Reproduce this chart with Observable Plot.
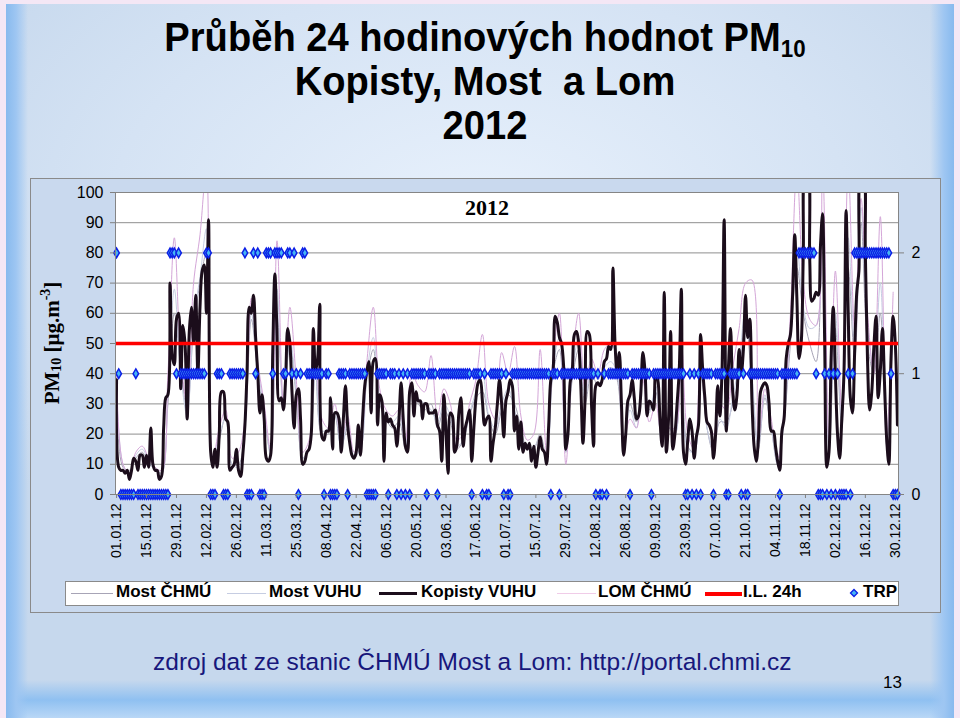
<!DOCTYPE html>
<html><head><meta charset="utf-8">
<script src="https://cdn.jsdelivr.net/npm/d3@7"></script>
<script src="https://cdn.jsdelivr.net/npm/@observablehq/plot@0.6"></script>
<style>
html,body{margin:0;padding:0;}
body{width:960px;height:718px;position:relative;overflow:hidden;background:#f4e7f5;font-family:"Liberation Sans",Arial,sans-serif;}
#slide{position:absolute;left:6px;top:4px;width:948px;height:714px;
 background:
 linear-gradient(to right,#88baee 0px,#9ec6f2 10px,rgba(200,218,240,0) 22px,rgba(200,218,240,0) 924px,#9ec6f2 938px,#88baee 948px),
 linear-gradient(to bottom,rgba(140,190,240,0) 676px,#8fc0f1 696px,#b9d7f6 714px),
 radial-gradient(ellipse 65% 55% at 50% 30%,#e8f1fc 0%,#d5e3f4 60%,#c6d8ed 100%);}
#title{position:absolute;left:0;top:15px;width:970px;text-align:center;font:bold 41px/44px "Liberation Sans",Arial,sans-serif;color:#000;transform:scaleX(0.93);transform-origin:485px 0;}
#title sub{font-size:24px;line-height:0;vertical-align:-0.25em;}
#box{position:absolute;left:30px;top:178px;width:909px;height:433px;border:1px solid #8a8a8a;background:#c9d9ee;}
#chart{position:absolute;left:30px;top:178px;}
#ytitle{position:absolute;left:52px;top:343px;transform:translate(-50%,-50%) rotate(-90deg);font:bold 21px "Liberation Serif","Times New Roman",serif;white-space:nowrap;}
#ytitle sub{font-size:14px;line-height:0;vertical-align:-0.2em;}
#ytitle sup{font-size:14px;line-height:0;vertical-align:0.6em;}
#legend{position:absolute;left:65px;top:581px;width:832px;height:23px;border:1px solid #8a8a8a;background:#fff;}
.li{position:absolute;top:0;height:23px;line-height:23px;font:bold 17px "Liberation Sans",Arial,sans-serif;white-space:nowrap;}
.ln{position:absolute;}
#source{position:absolute;left:153px;top:650px;font:24.5px/24px "Liberation Sans",Arial,sans-serif;color:#17177c;white-space:nowrap;}
#page{position:absolute;left:883px;top:674px;font:17px/17px "Liberation Sans",Arial,sans-serif;color:#000;}
</style></head><body>
<div id="slide"></div>
<div id="title">Průběh 24 hodinových hodnot PM<sub>10</sub><br>Kopisty, Most&nbsp; a Lom<br>2012</div>
<div id="box"></div>
<div id="chart"></div>
<div id="ytitle">PM<sub>10</sub> [μg.m<sup>-3</sup>]</div>
<div id="legend"></div>
<div id="source">zdroj dat ze stanic ČHMÚ Most a Lom: http://portal.chmi.cz</div>
<div id="page">13</div>
<script>
// ---------- data (daily values, 2012) ----------
const seriesNames = ["Most ČHMÚ", "Most VUHU", "Kopisty VUHU", "LOM ČHMÚ", "I.L. 24h", "TRP"];
const yearStart = "2012-01-01";

// Kopisty VUHU, one value per day from 01.01.12
const kopisty = [
 38, 9, 8, 8, 7, 8, 5, 8, 12, 11,
 8, 13, 13, 9, 13, 9, 22, 10, 8, 8,
 5, 6, 22, 32, 33, 70, 46, 43, 58, 60,
 35, 56, 50, 25, 54, 62, 50, 66, 40, 62,
 74, 76, 60, 91, 14, 9, 15, 9, 20, 34,
 34, 25, 24, 8, 9, 10, 15, 8, 6, 13,
 23, 41, 62, 60, 66, 52, 40, 27, 33, 25,
 12, 11, 13, 47, 73, 53, 31, 32, 28, 38,
 55, 50, 34, 22, 33, 35, 25, 10, 11, 14,
 15, 20, 55, 41, 45, 63, 19, 18, 21, 21,
 32, 15, 27, 27, 25, 14, 25, 36, 23, 17,
 13, 12, 14, 23, 13, 25, 36, 41, 44, 27,
 44, 45, 23, 33, 31, 11, 27, 24, 25, 23,
 22, 16, 25, 37, 25, 16, 14, 34, 37, 26,
 34, 31, 31, 25, 30, 30, 27, 27, 27, 28,
 23, 21, 11, 33, 20, 7, 27, 26, 14, 16,
 27, 32, 16, 22, 25, 28, 11, 22, 32, 37,
 38, 31, 23, 25, 26, 11, 17, 22, 30, 38,
 30, 19, 31, 34, 38, 36, 21, 26, 15, 24,
 14, 17, 15, 17, 11, 16, 9, 14, 19, 15,
 14, 10, 23, 38, 41, 59, 57, 52, 50, 42,
 15, 20, 37, 41, 53, 54, 50, 36, 17, 32,
 54, 53, 30, 16, 36, 37, 36, 38, 44, 45,
 49, 48, 75, 50, 40, 47, 30, 13, 20, 31,
 33, 38, 32, 25, 26, 33, 47, 41, 26, 31,
 30, 28, 40, 38, 25, 16, 67, 14, 25, 54,
 15, 20, 30, 41, 68, 14, 10, 18, 25, 21,
 12, 19, 23, 53, 41, 32, 24, 23, 21, 12,
 20, 36, 26, 41, 91, 21, 42, 55, 34, 28,
 33, 48, 40, 48, 66, 52, 58, 31, 16, 11,
 18, 34, 36, 37, 36, 30, 21, 21, 16, 11,
 8, 21, 25, 45, 50, 53, 66, 86, 65, 45,
 50, 80, 108, 108, 78, 64, 65, 67, 66, 82,
 93, 50, 9, 14, 45, 62, 40, 20, 12, 25,
 40, 94, 60, 32, 27, 47, 67, 74, 108, 108,
 80, 45, 28, 34, 49, 59, 32, 41, 55, 36,
 18, 10, 45, 59, 50, 23
];

// thin series, one reading every 3rd day from 01.01.12
const thinStep = 3;
const lomChmu = [
 40,10,7,14,16,12,9,8,40,85,
 45,30,70,86,108,12,22,28,12,14,
 25,65,44,30,15,84,30,62,38,14,
 18,45,25,22,30,18,26,14,18,44,
 62,35,28,26,28,18,40,36,34,46,
 26,35,30,18,20,30,38,53,30,25,
 47,40,49,26,18,20,48,14,45,60,
 10,44,60,35,45,40,48,50,45,17,
 25,22,38,24,30,20,22,22,50,20,
 15,45,25,20,30,28,42,55,70,71,
 18,35,25,12,28,60,108,70,58,56,
 108,18,74,28,108,55,98,60,40,92,
 20,67
];
const mostChmu = [
 35,9,8,12,14,10,9,7,30,60,
 42,28,55,70,80,11,18,26,10,10,
 22,58,40,26,14,60,30,50,32,12,
 16,40,20,20,26,16,22,12,16,38,
 48,30,25,22,24,15,34,30,28,30,
 22,28,24,15,18,26,32,34,25,20,
 28,33,30,22,15,15,20,12,40,48,
 14,38,48,30,40,36,40,42,38,15,
 30,24,40,28,34,18,22,20,55,16,
 14,40,22,14,24,24,30,40,58,36,
 15,32,22,10,24,50,75,60,50,44,
 85,14,55,22,75,45,90,50,40,60,
 16,55
];
const mostVuhu = [
 36,10,7,13,15,11,8,7,35,68,
 40,26,58,72,88,12,20,25,10,9,
 22,60,42,28,13,68,28,52,34,12,
 16,42,21,22,27,15,24,13,15,40,
 52,32,26,24,26,16,36,32,30,28,
 24,30,26,16,18,27,34,40,26,22,
 30,35,28,20,15,16,18,11,42,52,
 14,40,52,32,42,38,42,44,40,16,
 28,22,42,27,36,17,22,20,60,15,
 14,46,22,15,25,22,32,44,62,40,
 16,33,22,10,25,55,82,62,55,56,
 88,16,60,24,85,50,95,55,42,70,
 18,58
];

// TRP (right axis 0/1/2), run-length: [value, number of days]
const trpRuns = [
 [2,1],[1,1],[0,7],[1,1],[0,15],[2,3],[1,1],[2,1],[1,12],[2,2],[0,3],[1,3],[0,3],[1,7],[2,1],[0,3],
 [2,1],[1,1],[2,1],[0,3],[2,3],[1,1],[2,4],[1,2],[2,2],[1,1],[2,1],[1,1],[0,1],[1,1],[2,1],
 [2,1],[1,8],[0,1],[1,2],[0,4],[1,4],[0,1],[1,8],[0,5],[1,5],[0,1],[1,3],
 [0,1],[1,1],[0,1],[1,1],[0,1],[1,1],[0,1],[1,7],[0,1],[1,4],[0,1],[1,15],[0,1],[1,4],[0,1],[1,1],[0,2],
 [1,6],[0,1],[1,1],[0,2],[1,18],[0,1],[1,3],[0,1],[1,16],[0,1],[1,1],[0,2],[1,1],[0,1],[1,10],[0,1],
 [1,9],[0,1],[1,15],[0,2],[1,1],[0,1],[1,1],[0,1],[1,1],[0,1],[1,5],[0,1],[1,5],[0,2],[1,5],[0,1],
 [1,1],[0,2],[1,14],[0,1],[1,8],[2,8],[1,1],[0,3],[1,1],[0,1],[1,1],[0,1],[1,1],[0,1],[1,1],[0,4],
 [1,1],[0,1],[1,1],[2,17],[1,1],[0,3]
];

const limit24h = 50;
const yTicks = [0, 10, 20, 30, 40, 50, 60, 70, 80, 90, 100];
const trpTicks = [0, 1, 2];
const trpUnit = 40; // one TRP step in µg.m-3 of the left axis
const xTickLabels = ["01.01.12","15.01.12","29.01.12","12.02.12","26.02.12","11.03.12","25.03.12",
 "08.04.12","22.04.12","06.05.12","20.05.12","03.06.12","17.06.12","01.07.12","15.07.12","29.07.12",
 "12.08.12","26.08.12","09.09.12","23.09.12","07.10.12","21.10.12","04.11.12","18.11.12","02.12.12",
 "16.12.12","30.12.12"];
const chartLabel = "2012";

// ---------- build tables ----------
const DAY = 864e5;
const t0 = Date.parse(yearStart + "T00:00:00Z");
const daily = kopisty.map((v, i) => ({date: new Date(t0 + i * DAY), v}));
const thin = arr => arr.map((v, i) => ({date: new Date(t0 + i * thinStep * DAY), v}));
const trpRows = [];
{ let k = 0; for (const [val, n] of trpRuns) for (let j = 0; j < n; j++) trpRows.push({date: new Date(t0 + (k++) * DAY), v: val * trpUnit}); }
const tickDates = xTickLabels.map(s => { const [dd, mm, yy] = s.split(".").map(Number); return new Date(Date.UTC(2000 + yy, mm - 1, dd)); });
const labelOf = new Map(tickDates.map((d, i) => [+d, xTickLabels[i]]));

const colors = {mostChmu: "#a7a4b6", mostVuhu: "#c6cde2", kopisty: "#1b0d1b", lom: "#d4a6d8", il: "#ff0000", trpFill: "#45b4f4", trpStroke: "#0c1fe6"};

const chart = Plot.plot({
  width: 910, height: 392,
  marginLeft: 85, marginRight: 42, marginTop: 14, marginBottom: 76,
  style: {fontFamily: '"Liberation Sans", Arial, sans-serif', fontSize: "16px", color: "#000", background: "none", overflow: "visible"},
  x: {type: "utc", domain: [new Date(t0 - DAY / 2), new Date(t0 + 365.5 * DAY)]},
  y: {domain: [0, 100]},
  marks: [
    Plot.frame({fill: "white", stroke: null}),
    Plot.ruleY(yTicks.slice(1), {stroke: "#8e8e8e", strokeWidth: 1}),
    Plot.lineY(thin(mostChmu), {x: "date", y: "v", stroke: colors.mostChmu, strokeWidth: 1, curve: "catmull-rom", clip: true}),
    Plot.lineY(thin(mostVuhu), {x: "date", y: "v", stroke: colors.mostVuhu, strokeWidth: 1, curve: "catmull-rom", clip: true}),
    Plot.lineY(thin(lomChmu), {x: "date", y: "v", stroke: colors.lom, strokeWidth: 1, curve: "catmull-rom", clip: true}),
    Plot.lineY(daily, {x: "date", y: "v", stroke: colors.kopisty, strokeWidth: 3, curve: "catmull-rom", clip: true}),
    Plot.ruleY([limit24h], {stroke: colors.il, strokeWidth: 3.5}),
    Plot.dot(trpRows, {x: "date", y: "v", symbol: "diamond", r: 2.9, fill: colors.trpFill, stroke: colors.trpStroke, strokeWidth: 1.5}),
    Plot.frame({stroke: "#858585"}),
    Plot.text([chartLabel], {frameAnchor: "top", dx: -20, dy: 7, fontSize: 22, fontWeight: "bold", fontFamily: '"Liberation Serif", "Times New Roman", serif', fill: "#000"}),
    Plot.axisY(yTicks, {anchor: "left", tickSize: 5, tickPadding: 7, fontSize: 16, stroke: "#808080", fill: "#000", label: null}),
    Plot.axisY(trpTicks.map(t => t * trpUnit), {anchor: "right", tickFormat: d => String(d / trpUnit), tickSize: 5, tickPadding: 8, fontSize: 16, stroke: "#808080", fill: "#000", label: null}),
    Plot.axisX(tickDates, {tickRotate: -90, tickFormat: d => labelOf.get(+d), tickSize: 4, tickPadding: 5, fontSize: 14, stroke: "#808080", fill: "#000", label: null})
  ]
});
document.getElementById("chart").appendChild(chart);

// ---------- legend ----------
const legend = document.getElementById("legend");
const L = 65; // legend left in page coords
const items = [
  {name: seriesNames[0], x0: 70, x1: 112, tx: 115, color: colors.mostChmu, w: 1},
  {name: seriesNames[1], x0: 226, x1: 265, tx: 268, color: colors.mostVuhu, w: 1},
  {name: seriesNames[2], x0: 378, x1: 416, tx: 420, color: colors.kopisty, w: 3},
  {name: seriesNames[3], x0: 556, x1: 595, tx: 597, color: "#f0cce8", w: 1},
  {name: seriesNames[4], x0: 704, x1: 741, tx: 742, color: colors.il, w: 4},
  {name: seriesNames[5], diamond: 853, tx: 862}
];
for (const it of items) {
  if (it.diamond) {
    const s = document.createElementNS("http://www.w3.org/2000/svg", "svg");
    s.setAttribute("width", 10); s.setAttribute("height", 10);
    s.style.position = "absolute"; s.style.left = (it.diamond - L - 5) + "px"; s.style.top = "6px";
    s.innerHTML = `<path d="M5,1.5L8.5,5L5,8.5L1.5,5Z" fill="${colors.trpFill}" stroke="${colors.trpStroke}" stroke-width="1.3"/>`;
    legend.appendChild(s);
  } else {
    const ln = document.createElement("div");
    ln.className = "ln";
    ln.style.left = (it.x0 - L) + "px"; ln.style.width = (it.x1 - it.x0) + "px";
    ln.style.top = (11.5 - it.w / 2) + "px"; ln.style.height = it.w + "px"; ln.style.background = it.color;
    legend.appendChild(ln);
  }
  const t = document.createElement("div");
  t.className = "li"; t.style.left = (it.tx - L) + "px"; t.textContent = it.name;
  legend.appendChild(t);
}
</script>
</body></html>
